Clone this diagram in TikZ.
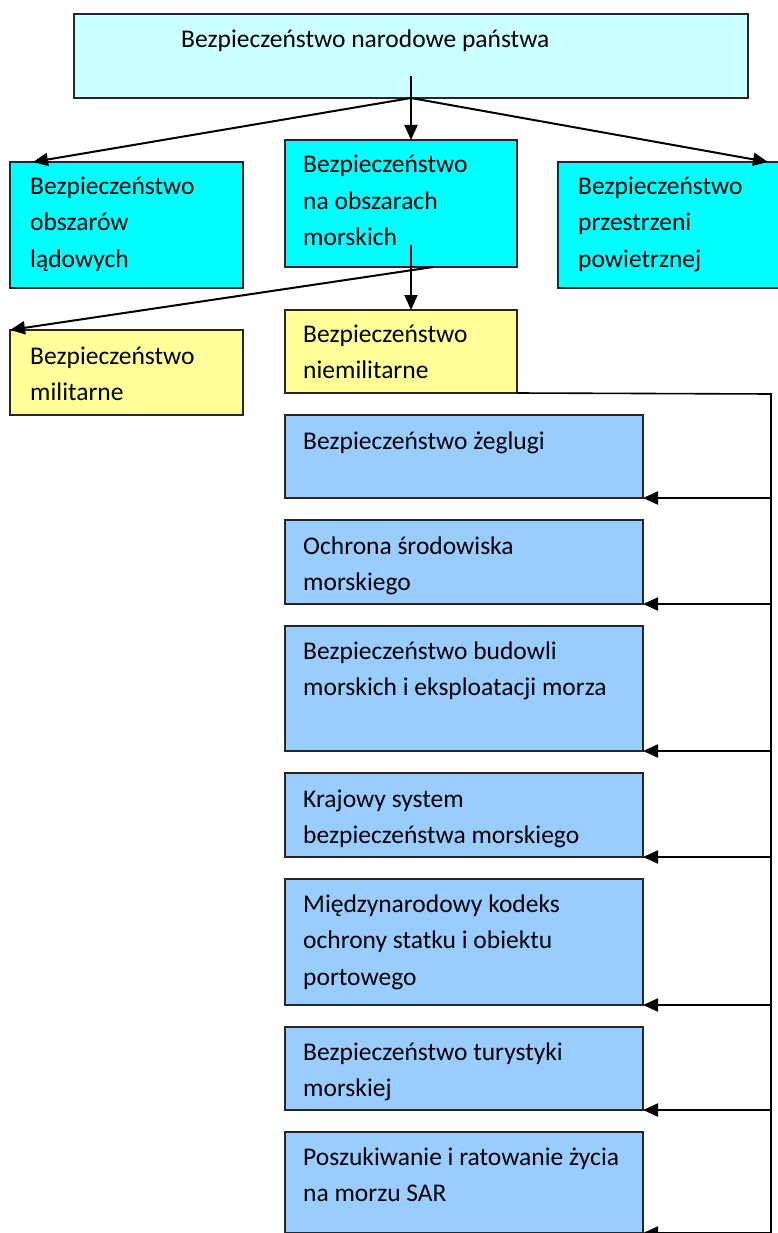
\documentclass[tikz,border=0pt]{standalone}
\usepackage{fontspec}
\setmainfont{Carlito}
\usetikzlibrary{arrows.meta,calc}
\definecolor{topc}{HTML}{CCFFFF}
\definecolor{cyanc}{HTML}{00FFFF}
\definecolor{yelc}{HTML}{FFFF99}
\definecolor{bluec}{HTML}{99CCFF}
\tikzset{
  boxnode/.style={draw=black!85, line width=1.5pt, rectangle, inner sep=0pt, outer sep=0pt, anchor=north west},
  txt/.style={anchor=base west, align=left, inner sep=0pt, font=\fontsize{25.5}{36.5}\selectfont},
  arr/.style={line width=2pt, -{Triangle[length=15pt,width=13pt]}},
  bus/.style={line width=1.6pt},
}
\begin{document}
\begin{tikzpicture}[x=1pt,y=-1pt]
\useasboundingbox (0,0) rectangle (778,1233);
\clip (0,0) rectangle (778,1233);
% boxes
\node[boxnode, fill=topc, minimum width=674pt, minimum height=84pt] (top) at (74,14) {};
\node[boxnode, fill=cyanc, minimum width=233pt, minimum height=126pt] (land) at (10,162) {};
\node[boxnode, fill=cyanc, minimum width=232pt, minimum height=127pt] (sea) at (285,140) {};
\node[boxnode, fill=cyanc, minimum width=240pt, minimum height=126pt] (air) at (558,162) {};
\node[boxnode, fill=yelc, minimum width=233pt, minimum height=85pt] (mil) at (10,330) {};
\node[boxnode, fill=yelc, minimum width=232pt, minimum height=83pt] (niemil) at (285,310) {};
\node[boxnode, fill=bluec, minimum width=358pt, minimum height=83pt] (b1) at (285,415) {};
\node[boxnode, fill=bluec, minimum width=358pt, minimum height=84pt] (b2) at (285,520) {};
\node[boxnode, fill=bluec, minimum width=358pt, minimum height=125pt] (b3) at (285,626) {};
\node[boxnode, fill=bluec, minimum width=358pt, minimum height=84pt] (b4) at (285,773) {};
\node[boxnode, fill=bluec, minimum width=358pt, minimum height=126pt] (b5) at (285,879) {};
\node[boxnode, fill=bluec, minimum width=358pt, minimum height=83pt] (b6) at (285,1027) {};
\node[boxnode, fill=bluec, minimum width=358pt, minimum height=101pt] (b7) at (285,1132) {};
% texts (anchor = baseline of the last line)
\node[txt] (ttop) at (181,48) {Bezpieczeństwo narodowe państwa};
\node[txt] (tland) at (30,267) {Bezpieczeństwo\\obszarów\\lądowych};
\node[txt] (tsea) at (303,246) {Bezpieczeństwo\\na obszarach\\morskich};
\node[txt] (tair) at (578,267) {Bezpieczeństwo\\przestrzeni\\powietrznej};
\node[txt] (tmil) at (30,400.5) {Bezpieczeństwo\\militarne};
\node[txt] (tniemil) at (303,378.5) {Bezpieczeństwo\\niemilitarne};
\node[txt] (tb1) at (303,449) {Bezpieczeństwo żeglugi};
\node[txt] (tb2) at (303,590.5) {Ochrona środowiska\\morskiego};
\node[txt] (tb3) at (303,695.5) {Bezpieczeństwo budowli\\morskich i eksploatacji morza};
\node[txt] (tb4) at (303,843.5) {Krajowy system\\bezpieczeństwa morskiego};
\node[txt] (tb5) at (303,985) {Międzynarodowy kodeks\\ochrony statku i obiektu\\portowego};
\node[txt] (tb6) at (303,1096.5) {Bezpieczeństwo turystyki\\morskiej};
\node[txt] (tb7) at (303,1201.5) {Poszukiwanie i ratowanie życia\\na morzu SAR};
% coordinates
\coordinate (topfork) at (411,98);
\coordinate (topin) at (411,76);
\coordinate (seain) at (411,245);
\coordinate (seaout) at (433,267);
\coordinate (landend) at (33,162);
\coordinate (airend) at (768,162);
\coordinate (bustop) at (771,394);
\coordinate (busbot) at (771,1240);
% connectors
\draw[arr] (topin) -- (topin |- sea.north);
\draw[arr] (topfork) -- (landend);
\draw[arr] (topfork) -- (airend);
\draw[arr] (seain) -- (seain |- niemil.north);
\draw[arr] (seaout) -- (mil.north west);
\draw[bus] (niemil.south east) -- (bustop) -- (busbot);
\foreach \b in {b1,b2,b3,b4,b5,b6}{
  \draw[arr] (bustop |- \b.south east) -- (\b.south east);
}
\draw[arr] (771,1233) -- (643,1233);
\end{tikzpicture}
\end{document}
